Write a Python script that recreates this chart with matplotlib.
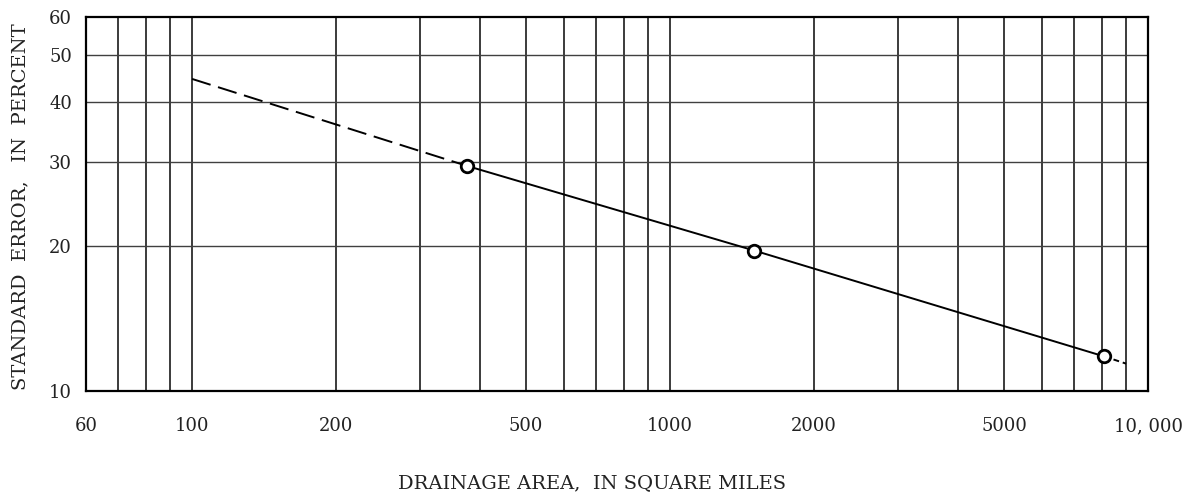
import matplotlib
matplotlib.use("Agg")
import matplotlib.pyplot as plt
from matplotlib.ticker import FixedLocator, NullFormatter, NullLocator

# Data
point_area = [376, 1500, 8100]
point_error = [29.4, 19.6, 11.8]
dash_left_x = [100, 376]
dash_left_y = [44.6, 29.4]
solid_x = [376, 1500, 8100]
solid_y = [29.4, 19.6, 11.8]
dash_right_x = [8100, 9000]
dash_right_y = [11.8, 11.4]

x_ticks = [60, 100, 200, 500, 1000, 2000, 5000, 10000]
x_tick_labels = ["60", "100", "200", "500", "1000", "2000", "5000", "10, 000"]
y_ticks = [10, 20, 30, 40, 50, 60]
y_tick_labels = ["10", "20", "30", "40", "50", "60"]
x_grid = [70, 80, 90, 100, 200, 300, 400, 500, 600, 700, 800, 900,
          1000, 2000, 3000, 4000, 5000, 6000, 7000, 8000, 9000]
y_grid = [20, 30, 40, 50]

plt.rcParams['font.family'] = ['DejaVu Serif']

fig = plt.figure(figsize=(11.96, 4.95), dpi=100)
ax = fig.add_axes([86/1196, 1-391/495, (1148-86)/1196, (391-17)/495])
ax.set_xscale('log')
ax.set_yscale('log')
ax.set_xlim(60, 10000)
ax.set_ylim(10, 60)

for gx in x_grid:
    ax.axvline(gx, color='#1a1a1a', lw=1.2, zorder=1)
for gy in y_grid:
    ax.axhline(gy, color='#404040', lw=1.0, zorder=1)

ax.plot(dash_left_x, dash_left_y, color='black', lw=1.4, ls=(0, (10, 4)), zorder=3)
ax.plot(solid_x, solid_y, color='black', lw=1.4, zorder=3)
ax.plot(dash_right_x, dash_right_y, color='black', lw=1.4, ls=(0, (3, 2)), zorder=3)
ax.plot(point_area, point_error, ls='none', marker='o', ms=9, mfc='white',
        mec='black', mew=2.0, zorder=4)

ax.xaxis.set_major_locator(FixedLocator(x_ticks))
ax.xaxis.set_minor_locator(NullLocator())
ax.set_xticklabels(x_tick_labels)
ax.xaxis.set_minor_formatter(NullFormatter())
ax.yaxis.set_major_locator(FixedLocator(y_ticks))
ax.yaxis.set_minor_locator(NullLocator())
ax.set_yticklabels(y_tick_labels)
ax.yaxis.set_minor_formatter(NullFormatter())
ax.tick_params(axis='x', length=0, pad=19, labelsize=13, colors='#222222')
ax.tick_params(axis='y', length=0, pad=10, labelsize=13, colors='#222222')

for s in ax.spines.values():
    s.set_linewidth(1.6)
    s.set_color('black')

fig.text(20/1196, 1-207/495, "STANDARD  ERROR,   IN  PERCENT", rotation=90,
         ha='center', va='center', fontsize=14, color='#222222')
fig.text(592/1196, 1-483/495, "DRAINAGE AREA,  IN SQUARE MILES",
         ha='center', va='center', fontsize=14, color='#222222')

fig.savefig("out.png", dpi=100)
